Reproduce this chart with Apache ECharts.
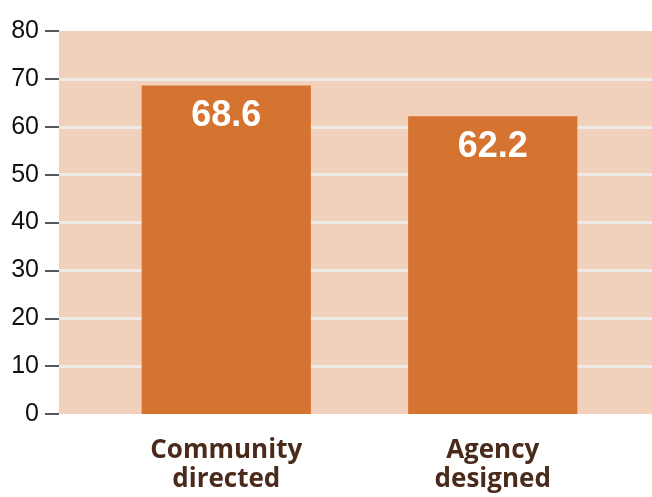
<!DOCTYPE html>
<html>
<head>
<meta charset="utf-8">
<script src="https://cdn.jsdelivr.net/npm/echarts@6/dist/echarts.min.js"></script>
<style>
  html, body { margin: 0; padding: 0; background: #fff; }
  #main { width: 652px; height: 497px; }
</style>
</head>
<body>
<div id="main"></div>
<script>
// chart data
var categories = ['Community\ndirected', 'Agency\ndesigned'];
var values = [68.6, 62.2];
var yMin = 0, yMax = 80, yStep = 10;

var myChart = echarts.init(document.getElementById('main'));

// white rules on the inner ticks only (not at 0 or 80)
var gridColor = '#eeeae6';
var ruleColors = ['transparent', gridColor, gridColor, gridColor, gridColor, gridColor, gridColor, gridColor, 'transparent'];

myChart.setOption({
    animation: false,
    grid: [
        // background panel with the value axis
        { left: 59, right: 0, top: 31, bottom: 83, show: true, backgroundColor: '#f1d1bb', borderWidth: 0 },
        // bars sit in a narrower grid
        { left: 93, right: 26, top: 31, bottom: 83 }
    ],
    xAxis: [
        { gridIndex: 0, type: 'category', data: categories, show: false },
        {
            gridIndex: 1,
            type: 'category',
            data: categories,
            axisLine: { show: false },
            axisTick: { show: false },
            axisLabel: {
                margin: 22,
                color: '#4a2b1b',
                fontFamily: 'Open Sans',
                fontWeight: 'bold',
                fontSize: 26,
                lineHeight: 29
            }
        }
    ],
    yAxis: [
        {
            gridIndex: 0,
            type: 'value',
            min: yMin,
            max: yMax,
            interval: yStep,
            axisLine: { show: false },
            axisTick: { show: true, length: 14, lineStyle: { color: '#222', width: 1.5 } },
            axisLabel: {
                margin: 20,
                color: '#111',
                fontFamily: 'Liberation Sans',
                fontSize: 25
            },
            splitLine: { show: true, lineStyle: { color: ruleColors, width: 3 } }
        },
        { gridIndex: 1, type: 'value', min: yMin, max: yMax, interval: yStep, show: false }
    ],
    series: [
        {
            type: 'bar',
            xAxisIndex: 1,
            yAxisIndex: 1,
            data: values,
            barWidth: '63.5%',
            itemStyle: { color: '#d57331' },
            label: {
                show: true,
                position: 'insideTop',
                distance: 13,
                color: '#fff',
                fontFamily: 'Liberation Sans',
                fontWeight: 'bold',
                fontSize: 36
            }
        }
    ]
});
</script>
</body>
</html>
